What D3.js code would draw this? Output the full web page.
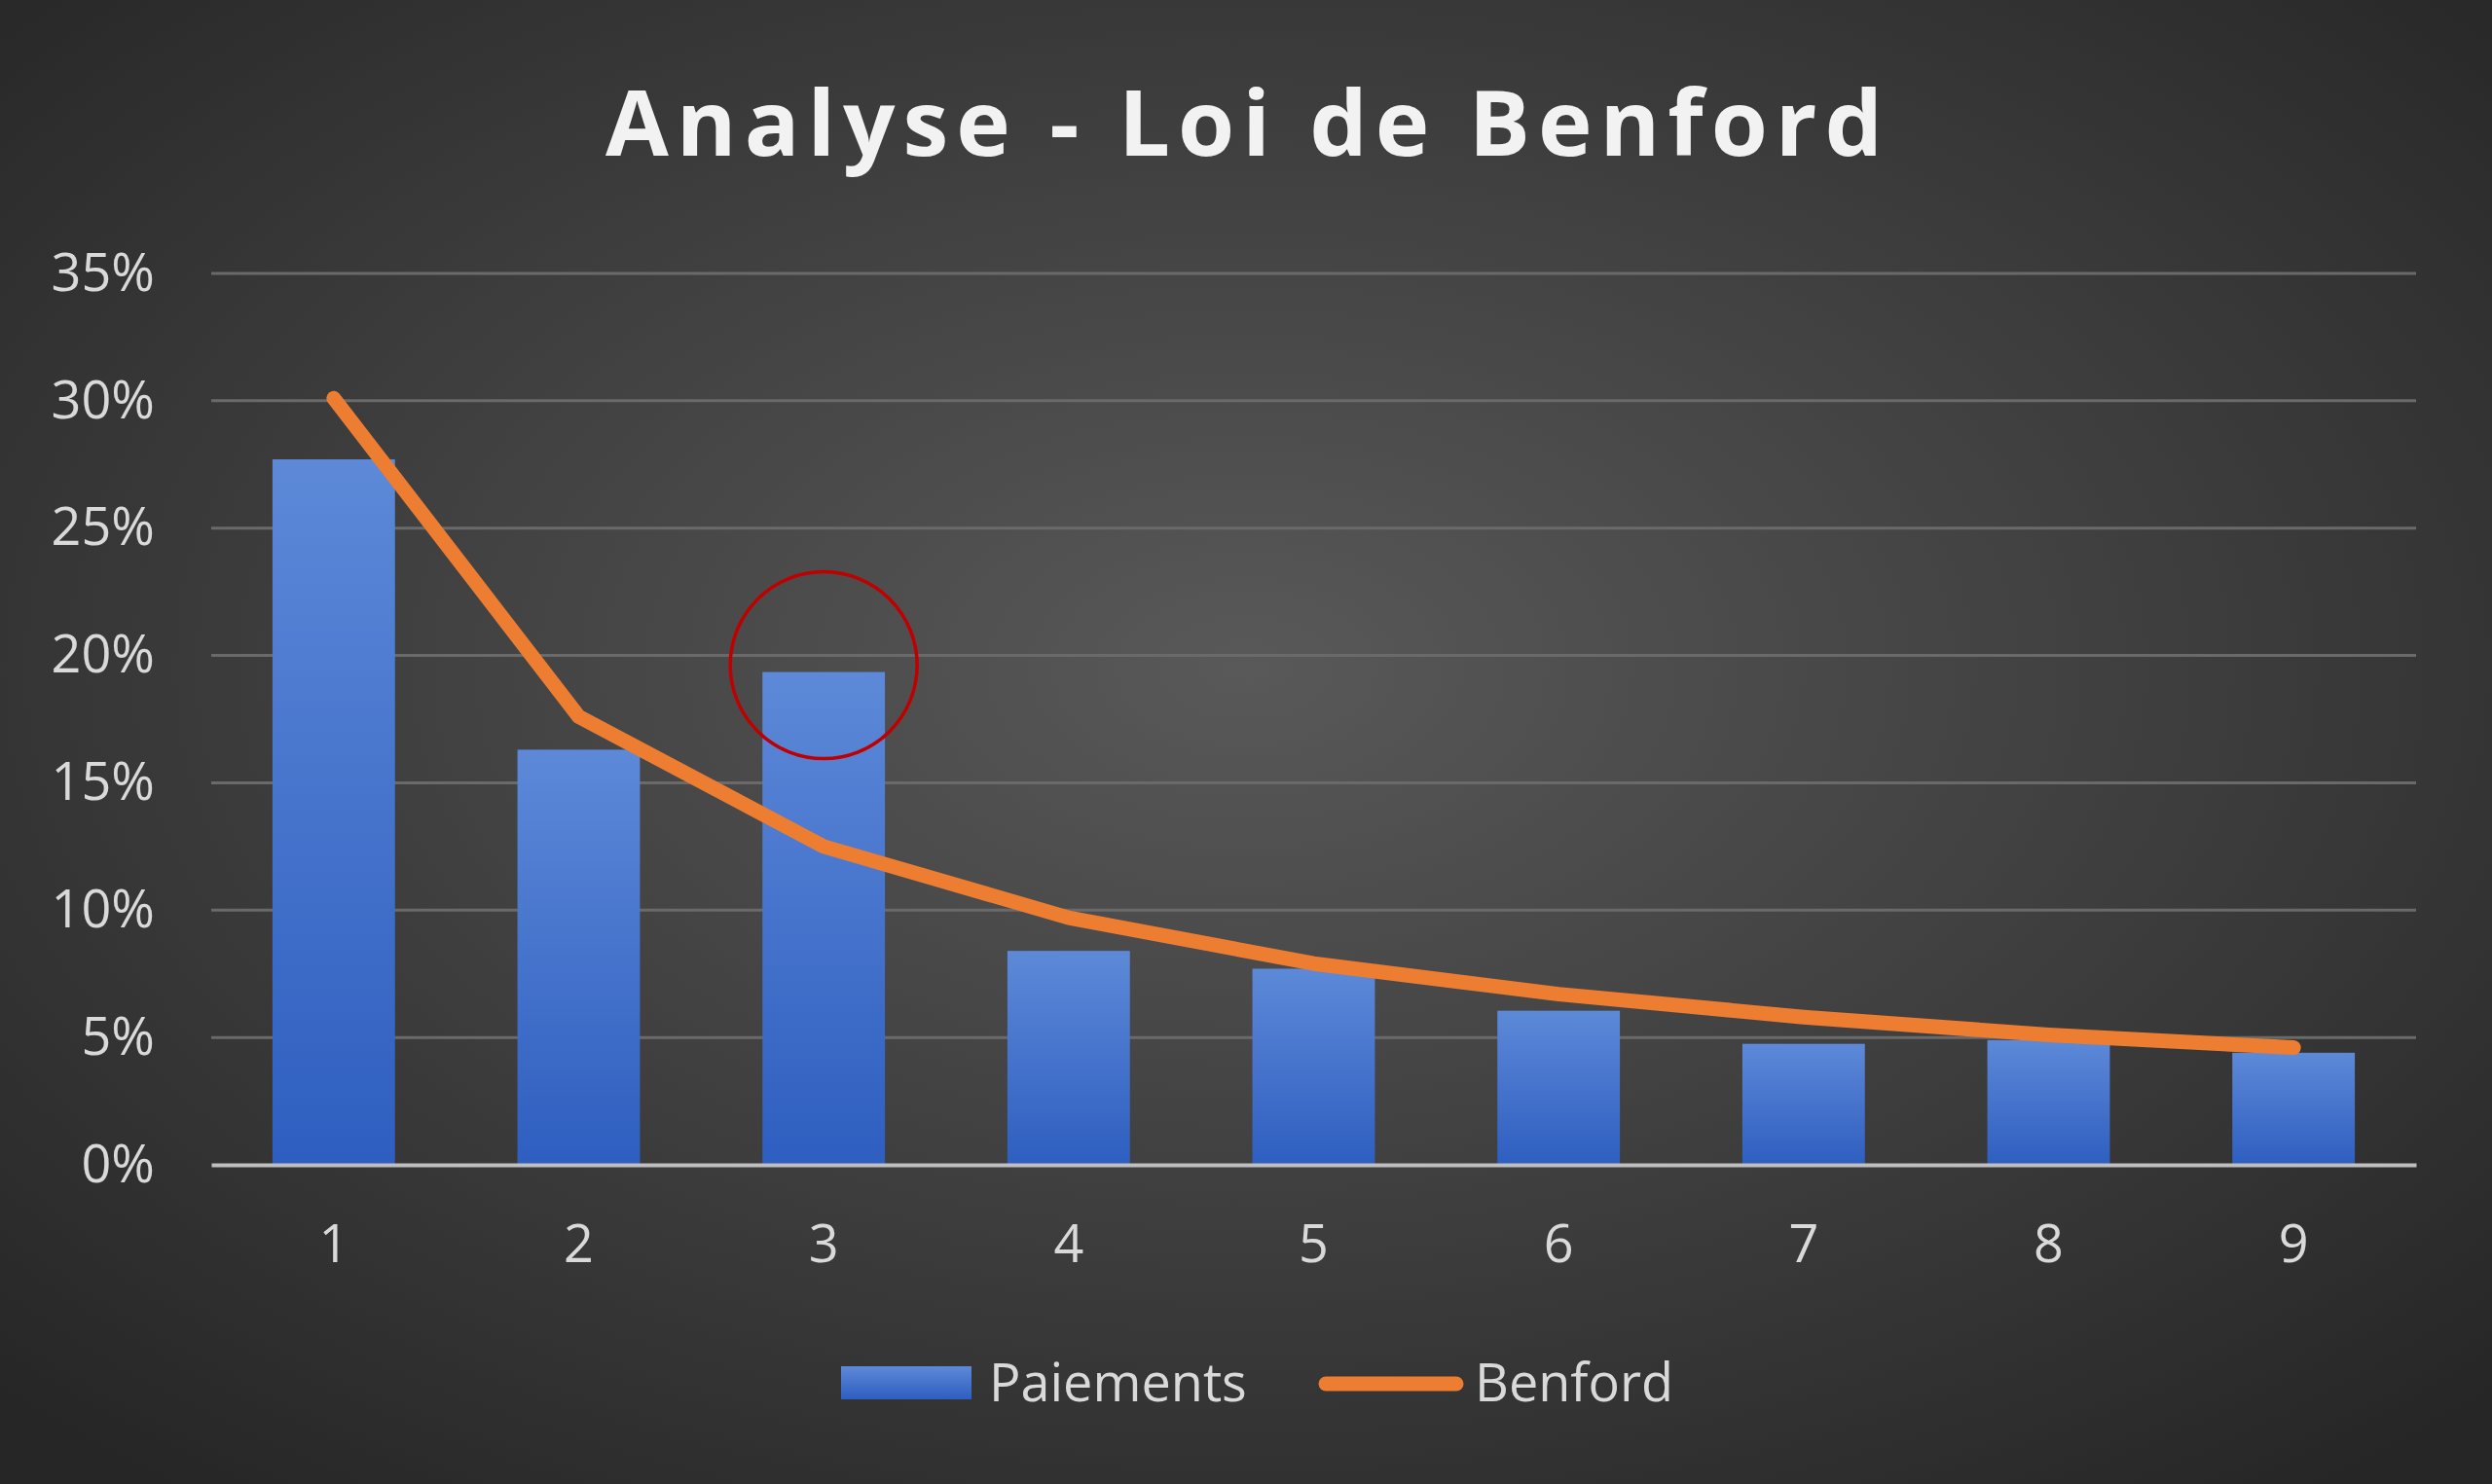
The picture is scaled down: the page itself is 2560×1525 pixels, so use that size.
<!DOCTYPE html>
<html><head><meta charset="utf-8">
<script src="https://cdn.jsdelivr.net/npm/d3@7"></script>
<style>body{margin:0;background:#262626}svg{display:block}</style></head>
<body><svg id="c" width="2560" height="1525"></svg>
<script>
const categories = ["1","2","3","4","5","6","7","8","9"];
const paiements = [27.7,16.3,19.35,8.4,7.7,6.05,4.75,4.9,4.4];
const benford = [30.1,17.6,12.5,9.7,7.9,6.7,5.8,5.1,4.6];
const yTicks = [0,5,10,15,20,25,30,35];
const highlighted = "3";

const svg = d3.select("#c");
const defs = svg.append("defs");
const bg = defs.append("radialGradient").attr("id","bg").attr("cx","50%").attr("cy","45%").attr("r","70%");
bg.append("stop").attr("offset","0%").attr("stop-color","#595959");
bg.append("stop").attr("offset","100%").attr("stop-color","#262626");
const bar = defs.append("linearGradient").attr("id","bar").attr("x1",0).attr("y1",0).attr("x2",0).attr("y2",1);
bar.append("stop").attr("offset","0%").attr("stop-color","#5d89d8");
bar.append("stop").attr("offset","100%").attr("stop-color","#2e5ec0");
svg.append("rect").attr("width",2560).attr("height",1525).attr("fill","url(#bg)");

const x = d3.scaleBand().domain(categories).range([217,2482]).paddingInner(0.5).paddingOuter(0.25);
const y = d3.scaleLinear().domain([0,35]).range([1197,281]);
const font = "'Open Sans', Calibri, sans-serif";

svg.append("text").attr("x",1282).attr("y",160).attr("text-anchor","middle")
 .attr("font-family",font).attr("font-weight",700).attr("font-size",94).attr("letter-spacing",8)
 .attr("fill","#f2f2f2").text("Analyse - Loi de Benford");

svg.append("g").selectAll("line").data(yTicks.filter(d=>d>0)).join("line")
 .attr("x1",217).attr("x2",2482).attr("y1",d=>y(d)).attr("y2",d=>y(d))
 .attr("stroke","#6a6a6a").attr("stroke-width",3);

const ya = svg.append("g").attr("transform","translate(217,0)")
 .call(d3.axisLeft(y).tickValues(yTicks).tickFormat(d=>d+"%").tickSize(0).tickPadding(58));
ya.select(".domain").remove();
ya.selectAll("text").attr("font-family",font).attr("font-size",54).attr("fill","#d9d9d9");

svg.append("g").selectAll("rect").data(categories).join("rect")
 .attr("x",d=>x(d)).attr("width",x.bandwidth())
 .attr("y",(d,i)=>y(paiements[i])).attr("height",(d,i)=>y(0)-y(paiements[i]))
 .attr("fill","url(#bar)");

const xa = svg.append("g").attr("transform","translate(0,1197)")
 .call(d3.axisBottom(x).tickSize(0).tickPadding(62));
xa.select(".domain").attr("stroke","#bfbfbf").attr("stroke-width",4);
xa.selectAll("text").attr("font-family",font).attr("font-size",54).attr("fill","#d9d9d9");

const line = d3.line().x((d,i)=>x(categories[i])+x.bandwidth()/2).y(d=>y(d));
svg.append("path").datum(benford).attr("d",line).attr("fill","none")
 .attr("stroke","#ed7d31").attr("stroke-width",15).attr("stroke-linecap","round").attr("stroke-linejoin","round");

const hi = categories.indexOf(highlighted);
svg.append("circle").attr("cx",x(highlighted)+x.bandwidth()/2).attr("cy",y(paiements[hi])-7)
 .attr("r",96).attr("fill","none").attr("stroke","#c00000").attr("stroke-width",3.5);

const lg = svg.append("g");
lg.append("rect").attr("x",864).attr("y",1404).attr("width",134).attr("height",34).attr("fill","url(#bar)");
lg.append("text").attr("x",1016).attr("y",1440).attr("font-family",font).attr("font-size",54).attr("fill","#d9d9d9").text("Paiements");
lg.append("line").attr("x1",1362).attr("x2",1496).attr("y1",1422).attr("y2",1422).attr("stroke","#ed7d31").attr("stroke-width",15).attr("stroke-linecap","round");
lg.append("text").attr("x",1515).attr("y",1440).attr("font-family",font).attr("font-size",54).attr("fill","#d9d9d9").text("Benford");
</script></body></html>
